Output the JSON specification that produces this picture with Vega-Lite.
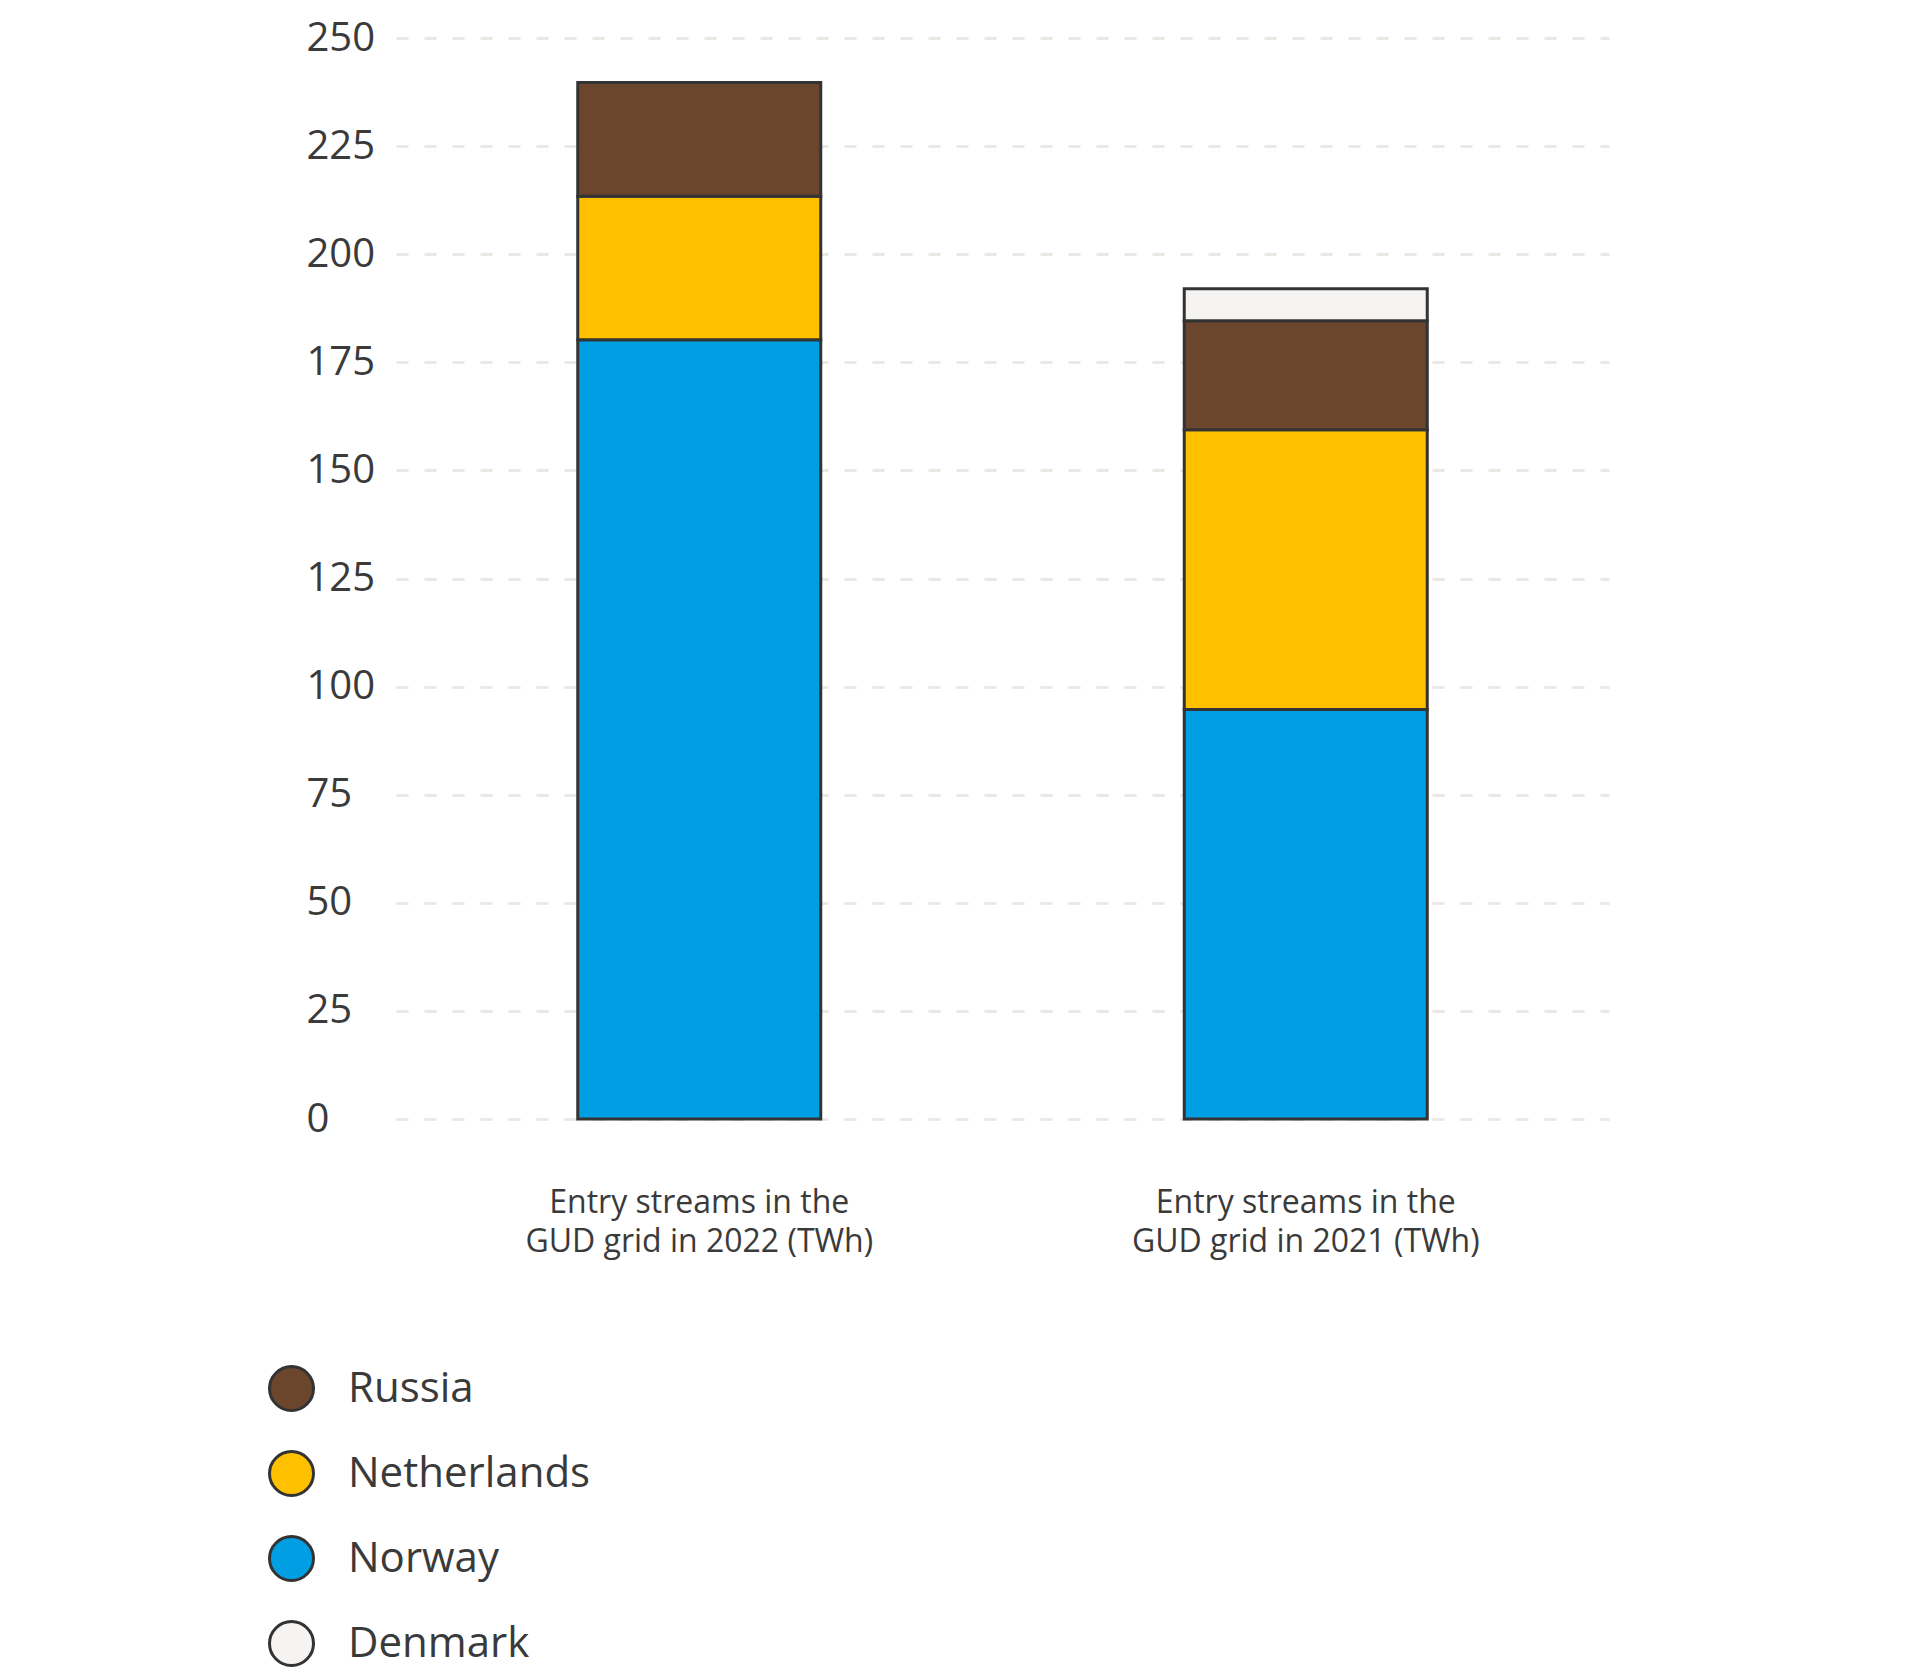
{
  "$schema": "https://vega.github.io/schema/vega-lite/v6.json",
  "autosize": {"type": "none"},
  "padding": {"left": 396, "top": 38, "right": 311, "bottom": 559},
  "width": 1213,
  "height": 1081,
  "background": "white",
  "data": {
    "values": [
      {"year": "2022", "country": "Norway", "twh": 180.2},
      {"year": "2022", "country": "Netherlands", "twh": 33.2},
      {"year": "2022", "country": "Russia", "twh": 26.3},
      {"year": "2021", "country": "Norway", "twh": 94.7},
      {"year": "2021", "country": "Netherlands", "twh": 64.7},
      {"year": "2021", "country": "Russia", "twh": 25.2},
      {"year": "2021", "country": "Denmark", "twh": 7.4}
    ]
  },
  "mark": {"type": "bar", "size": 243, "stroke": "#333333", "strokeWidth": 3},
  "encoding": {
    "x": {
      "field": "year",
      "type": "nominal",
      "sort": ["2022", "2021"],
      "scale": {"paddingInner": 0, "paddingOuter": 0},
      "axis": {
        "title": null,
        "domain": false,
        "ticks": false,
        "labelAngle": 0,
        "labelPadding": 68,
        "labelFontSize": 32,
        "labelLineHeight": 39,
        "labelLimit": 800,
        "labelColor": "#3a3a3a",
        "labelExpr": "['Entry streams in the', 'GUD grid in ' + datum.label + ' (TWh)']"
      }
    },
    "y": {
      "field": "twh",
      "type": "quantitative",
      "stack": "zero",
      "scale": {"domain": [0, 250], "nice": false},
      "axis": {
        "title": null,
        "domain": false,
        "ticks": false,
        "values": [0, 25, 50, 75, 100, 125, 150, 175, 200, 225, 250],
        "labelAlign": "left",
        "labelPadding": 90,
        "labelFontSize": 40,
        "labelColor": "#3a3a3a",
        "labelDy": 3,
        "gridColor": "#ece8e4",
        "gridWidth": 3,
        "gridDash": [12, 16]
      }
    },
    "order": {"field": "twh", "type": "quantitative", "sort": "descending"},
    "color": {
      "field": "country",
      "type": "nominal",
      "scale": {
        "domain": ["Russia", "Netherlands", "Norway", "Denmark"],
        "range": ["#6b462c", "#ffc000", "#009fe3", "#f5f4f2"]
      },
      "legend": {
        "title": null,
        "orient": "none",
        "legendX": -128,
        "legendY": 1327,
        "direction": "vertical",
        "symbolType": "circle",
        "symbolSize": 1936,
        "symbolStrokeColor": "#333333",
        "symbolStrokeWidth": 3,
        "symbolOpacity": 1,
        "labelFontSize": 42,
        "labelColor": "#3a3a3a",
        "labelOffset": 33,
        "rowPadding": 28,
        "padding": 0,
        "labelLimit": 600
      }
    }
  },
  "config": {
    "font": "Open Sans",
    "view": {"stroke": null}
  }
}
